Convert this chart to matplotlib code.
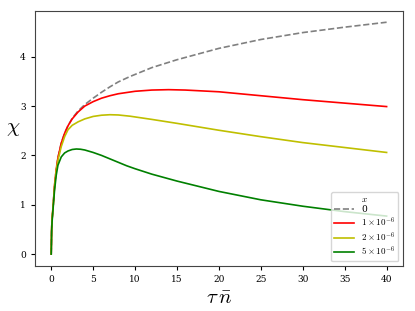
import matplotlib
matplotlib.use("Agg")
import matplotlib.pyplot as plt

plt.rcParams["font.family"] = "serif"
plt.rcParams["mathtext.fontset"] = "cm"

# tau * n_bar samples and chi for each x
T_ZERO = [0, 0.05, 0.1, 0.25, 0.4, 0.6, 0.8, 1.2, 1.6, 2, 2.5, 3.2, 4, 5, 6,
          7, 8, 9.4, 12, 15, 20, 25, 30, 35, 40]
CHI_ZERO = [0, 0.5, 0.7, 1.02, 1.4, 1.72, 1.95, 2.25, 2.45, 2.6, 2.75, 2.9,
            3.03, 3.16, 3.28, 3.39, 3.49, 3.6, 3.78, 3.94, 4.17, 4.35, 4.49,
            4.6, 4.70]

T_ONE = [0, 0.05, 0.1, 0.25, 0.4, 0.6, 0.8, 1.2, 1.6, 2, 2.5, 3.2, 4, 5, 6,
         7, 8, 10, 12, 14, 16, 20, 25, 30, 35, 40]
CHI_ONE = [0, 0.5, 0.7, 1.02, 1.4, 1.72, 1.95, 2.25, 2.45, 2.6, 2.74, 2.88,
           3.0, 3.09, 3.16, 3.21, 3.25, 3.3, 3.325, 3.333, 3.325, 3.29, 3.21,
           3.13, 3.06, 2.99]

T_TWO = [0, 0.05, 0.1, 0.25, 0.4, 0.6, 0.8, 1.2, 1.6, 2, 2.5, 3.2, 4, 5, 6,
         7, 8, 9.4, 12, 15, 20, 25, 30, 35, 40]
CHI_TWO = [0, 0.5, 0.7, 1.02, 1.38, 1.7, 1.9, 2.18, 2.38, 2.52, 2.61, 2.68,
           2.74, 2.79, 2.815, 2.825, 2.82, 2.795, 2.73, 2.65, 2.51, 2.38,
           2.26, 2.16, 2.06]

T_FIVE = [0, 0.05, 0.1, 0.25, 0.4, 0.6, 0.8, 1.2, 1.6, 2, 2.5, 3, 3.5, 4, 5,
          6, 7, 8, 9, 10, 12, 15, 20, 25, 30, 35, 40]
CHI_FIVE = [0, 0.45, 0.65, 0.98, 1.3, 1.6, 1.8, 1.97, 2.05, 2.09, 2.12, 2.13,
            2.125, 2.11, 2.06, 2.0, 1.93, 1.86, 1.79, 1.73, 1.62, 1.48, 1.27,
            1.1, 0.97, 0.86, 0.77]

fig = plt.figure(figsize=(4.15, 3.11), dpi=100)
ax = fig.add_axes([0.084, 0.145, 0.887, 0.82])

ax.plot(T_ZERO, CHI_ZERO, "--", color="gray", lw=1.2, label="0")
ax.plot(T_ONE, CHI_ONE, color="red", lw=1.2, label=r"$1\times10^{-6}$")
ax.plot(T_TWO, CHI_TWO, color="y", lw=1.2, label=r"$2\times10^{-6}$")
ax.plot(T_FIVE, CHI_FIVE, color="green", lw=1.2, label=r"$5\times10^{-6}$")

ax.set_xlim(-1.95, 41.95)
ax.set_ylim(-0.24, 4.93)
ax.set_xticks(range(0, 41, 5))
ax.set_yticks(range(0, 5))
ax.tick_params(labelsize=6.5, length=3, width=0.8)
for s in ax.spines.values():
    s.set_color("#444444")

ax.set_xlabel(r"$\tau\,\bar{n}$", fontsize=15)
ax.set_ylabel(r"$\chi$", fontsize=15, rotation=0, labelpad=5)

leg = ax.legend(title=r"$x$", loc="lower right", fontsize=6.5,
                title_fontsize=6.5, framealpha=0.8, labelspacing=0.15,
                borderpad=0.35, handlelength=2.2)

fig.savefig("out.png", dpi=100)
